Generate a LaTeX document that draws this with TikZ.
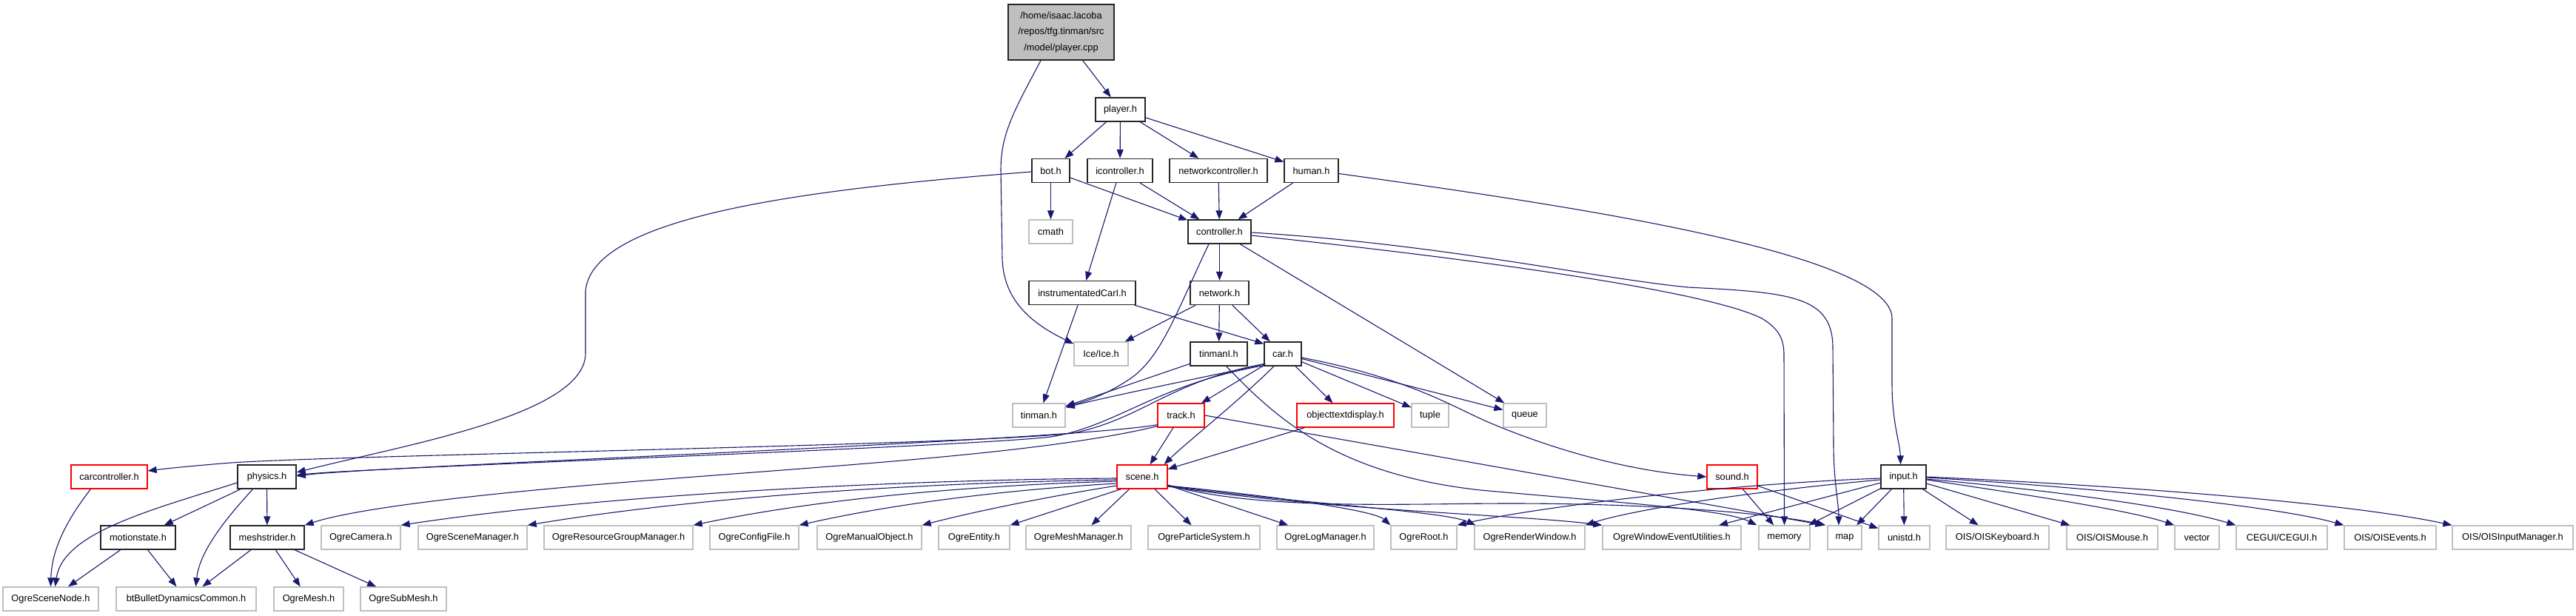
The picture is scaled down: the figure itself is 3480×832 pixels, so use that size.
\documentclass[tikz,border=0pt]{standalone}
\usepackage{fontspec}
\setmainfont{Liberation Sans}
\usetikzlibrary{arrows.meta,calc}
\definecolor{edgeblue}{HTML}{191970}
\definecolor{greyline}{HTML}{BFBFBF}
\definecolor{rootfill}{HTML}{BFBFBF}
\tikzset{
  nbox/.style={rectangle, inner sep=0pt, minimum height=32pt, fill=white,
    font=\fontsize{12.8}{15}\selectfont, line width=1.3pt},
  blk/.style={nbox, draw=black!85},
  gry/.style={nbox, draw=greyline},
  rd/.style={nbox, draw=red},
  dep/.style={draw=edgeblue, line width=1.1pt, -{Triangle[length=12pt,width=9pt]}},
}
\begin{document}
\begin{tikzpicture}[x=1pt,y=-1pt]
\useasboundingbox (0,0) rectangle (3480,832);
% ---------- nodes ----------
\node[blk, fill=rootfill, minimum width=143pt, minimum height=75pt, align=center,
      font=\fontsize{12.8}{21.5}\selectfont] (pcpp) at (1433.5,43.5)
      {/home/isaac.lacoba\\/repos/tfg.tinman/src\\/model/player.cpp};
\node[blk, minimum width=67pt] (playerh) at (1513.5,148) {player.h};
\node[blk, minimum width=51pt] (bot) at (1419.5,230.5) {bot.h};
\node[blk, minimum width=88pt] (icontroller) at (1513,230.5) {icontroller.h};
\node[blk, minimum width=132pt] (netctrl) at (1646,230.5) {networkcontroller.h};
\node[blk, minimum width=73pt] (human) at (1771.5,230.5) {human.h};
\node[gry, minimum width=59pt] (cmath) at (1419.5,313) {cmath};
\node[blk, minimum width=85pt] (controller) at (1647.5,313) {controller.h};
\node[blk, minimum width=144pt] (instr) at (1462,395.5) {instrumentatedCarI.h};
\node[blk, minimum width=79pt] (network) at (1647.5,395.5) {network.h};
\node[gry, minimum width=73pt] (ice) at (1487.5,478) {Ice/Ice.h};
\node[blk, minimum width=77pt] (tinmanI) at (1646.5,478) {tinmanI.h};
\node[blk, minimum width=50pt] (car) at (1733,478) {car.h};
\node[gry, minimum width=71pt] (tinman) at (1403.5,561) {tinman.h};
\node[rd, minimum width=63pt] (track) at (1595.5,561) {track.h};
\node[rd, minimum width=131pt] (otd) at (1817.5,561) {objecttextdisplay.h};
\node[gry, minimum width=50pt] (tuple) at (1932,561) {tuple};
\node[gry, minimum width=58pt] (queue) at (2060,561) {queue};
\node[rd, minimum width=103pt] (carctrl) at (147.5,644) {carcontroller.h};
\node[blk, minimum width=79pt] (physics) at (360.5,644) {physics.h};
\node[rd, minimum width=68pt] (scene) at (1543,644) {scene.h};
\node[rd, minimum width=68pt] (sound) at (2340,644) {sound.h};
\node[blk, minimum width=61pt] (input) at (2571.5,644) {input.h};
% row 8
\node[blk, minimum width=101pt] (motionstate) at (186.5,726) {motionstate.h};
\node[blk, minimum width=100pt] (meshstrider) at (361,726) {meshstrider.h};
\node[gry, minimum width=107pt] (ogcam) at (487.5,726) {OgreCamera.h};
\node[gry, minimum width=147pt] (ogscm) at (638.5,726) {OgreSceneManager.h};
\node[gry, minimum width=201pt] (ogrgm) at (835.5,726) {OgreResourceGroupManager.h};
\node[gry, minimum width=120pt] (ogcfg) at (1019,726) {OgreConfigFile.h};
\node[gry, minimum width=141pt] (ogman) at (1174.5,726) {OgreManualObject.h};
\node[gry, minimum width=96pt] (ogent) at (1316,726) {OgreEntity.h};
\node[gry, minimum width=142pt] (ogmm) at (1457,726) {OgreMeshManager.h};
\node[gry, minimum width=151pt] (ogps) at (1626.5,726) {OgreParticleSystem.h};
\node[gry, minimum width=131pt] (oglog) at (1790.5,726) {OgreLogManager.h};
\node[gry, minimum width=89pt] (ogroot) at (1923.5,726) {OgreRoot.h};
\node[gry, minimum width=149pt] (ogrw) at (2066.5,726) {OgreRenderWindow.h};
\node[gry, minimum width=187pt] (ogweu) at (2258.5,726) {OgreWindowEventUtilities.h};
\node[gry, minimum width=69pt] (memory) at (2410.5,726) {memory};
\node[gry, minimum width=46pt] (map) at (2492,726) {map};
\node[gry, minimum width=69pt] (unistd) at (2572.5,726) {unistd.h};
\node[gry, minimum width=139pt] (oiskb) at (2698.5,726) {OIS/OISKeyboard.h};
\node[gry, minimum width=123pt] (oismouse) at (2853.5,726) {OIS/OISMouse.h};
\node[gry, minimum width=60pt] (vector) at (2968,726) {vector};
\node[gry, minimum width=123pt] (cegui) at (3082.5,726) {CEGUI/CEGUI.h};
\node[gry, minimum width=124pt] (oisev) at (3229,726) {OIS/OISEvents.h};
\node[gry, minimum width=163pt] (oisim) at (3394.5,726) {OIS/OISInputManager.h};
% row 9
\node[gry, minimum width=129pt] (ogsn) at (68.5,809) {OgreSceneNode.h};
\node[gry, minimum width=189pt] (bt) at (251.5,809) {btBulletDynamicsCommon.h};
\node[gry, minimum width=94pt] (ogmesh) at (417,809) {OgreMesh.h};
\node[gry, minimum width=116pt] (ogsub) at (545,809) {OgreSubMesh.h};
% ---------- edges ----------
\draw[dep] (pcpp) -- (playerh);
\draw[dep] ($(pcpp.south)+(-27.5,0)$) .. controls (1370,150) and (1352,180) .. (1352,230)
   -- (1354,350) .. controls (1356,410) and (1400,440) .. ($(ice.north west)+(0,3)$);
\draw[dep] (playerh) -- (bot);
\draw[dep] (playerh) -- (icontroller);
\draw[dep] (playerh) -- (netctrl);
\draw[dep] (playerh) -- (human);
\draw[dep] (bot) -- (cmath);
\draw[dep] (bot) -- (controller);
\draw[dep] ($(bot.west)+(0,1.5)$) .. controls (1100,255) and (800,290) .. (791,393)
   -- (791,477) .. controls (791,560) and (550,600) .. ($(physics.east)+(0,-6)$);
\draw[dep] (icontroller) -- (controller);
\draw[dep] (icontroller) -- (instr);
\draw[dep] (netctrl) -- (controller);
\draw[dep] (human) -- (controller);
\draw[dep] ($(human.east)+(0,4)$) .. controls (2100,275) and (2556,340) .. (2556,430)
   -- (2556,520) .. controls (2556,570) and (2567,600) .. ($(input.north)+(-4,0)$);
\draw[dep] (controller) -- (network);
\draw[dep] ($(controller.south)+(-14.5,0)$) .. controls (1590,420) and (1570,480) .. (1529,510)
   .. controls (1500,530) and (1470,542) .. ($(tinman.north east)+(0,4)$);
\draw[dep] (controller) -- (queue);
\draw[dep] ($(controller.east)+(0,1)$) .. controls (1950,330) and (2150,375) .. (2280,388)
   .. controls (2420,395) and (2476,400) .. (2476,470) -- (2477,600)
   .. controls (2477,650) and (2484,680) .. ($(map.north)+(-8,0)$);
\draw[dep] ($(controller.east)+(0,5)$) .. controls (1950,345) and (2300,390) .. (2380,430)
   .. controls (2405,445) and (2410,460) .. (2410,480) -- (memory.north);
\draw[dep] (instr) -- (tinman);
\draw[dep] ($(instr.south east)+(-2,0)$) -- ($(car.north west)+(0,3)$);
\draw[dep] (network) -- (ice);
\draw[dep] (network) -- (tinmanI);
\draw[dep] (network) -- (car);
\draw[dep] (tinmanI) -- (tinman);
\draw[dep] ($(tinmanI.south)+(10,0)$) .. controls (1720,560) and (1800,640) .. (2000,662)
   .. controls (2200,680) and (2330,688) .. ($(memory.north west)+(-2,0)$);
\draw[dep] ($(car.south west)+(2,-3)$) .. controls (1600,515) and (1500,535) .. ($(tinman.north east)+(0,6)$);
\draw[dep] ($(car.south west)+(0,-3)$) .. controls (1580,515) and (1545,565) .. (1450,585)
   .. controls (1300,602) and (420,615) .. (300,626)
   .. controls (240,631) and (215,634) .. ($(carctrl.east)+(0,-8)$);
\draw[dep] ($(car.south west)+(0,-1)$) .. controls (1560,520) and (1510,575) .. (1420,590)
   .. controls (1300,604) and (480,632) .. ($(physics.east)+(0,-2)$);
\draw[dep] (car) -- (track);
\draw[dep] ($(car.south)+(-12,0)$) .. controls (1670,545) and (1600,600) .. ($(scene.north east)+(-5,0)$);
\draw[dep] (car) -- (otd);
\draw[dep] (car) -- (tuple);
\draw[dep] (car) -- (queue);
\draw[dep] ($(car.east)+(0,5)$) .. controls (1900,510) and (1960,548) .. (2010,570)
   .. controls (2100,608) and (2200,636) .. (sound.west);
\draw[dep] ($(track.south west)+(0,-4)$) .. controls (1450,595) and (500,630) .. ($(physics.east)+(0,-1)$);
\draw[dep] ($(track.south west)+(0,-2)$) .. controls (1400,615) and (1100,630) .. (800,655)
   .. controls (600,672) and (470,690) .. (meshstrider.north east);
\draw[dep] (track) -- (scene);
\draw[dep] (track.east) .. controls (1850,600) and (2300,680) .. ($(map.north west)+(-4,0)$);
\draw[dep] (otd) -- (scene);
% scene.h
\draw[dep] ($(scene.west)+(0,2)$) .. controls (1200,648) and (800,670) .. (ogcam.north east);
\draw[dep] ($(scene.west)+(0,4)$) .. controls (1250,652) and (950,670) .. (ogscm.north east);
\draw[dep] ($(scene.west)+(0,6)$) .. controls (1300,656) and (1100,675) .. (ogrgm.north east);
\draw[dep] ($(scene.west)+(0,9)$) .. controls (1350,662) and (1200,682) .. (ogcfg.north east);
\draw[dep] ($(scene.west)+(0,12)$) .. controls (1420,670) and (1320,690) .. (ogman.north east);
\draw[dep] ($(scene.south west)+(6,0)$) -- (ogent.north east);
\draw[dep] (scene) -- (ogmm);
\draw[dep] (scene) -- (ogps);
\draw[dep] (scene) -- (oglog);
\draw[dep] ($(scene.east)+(0,12)$) .. controls (1700,668) and (1855,688) .. (ogroot.north west);
\draw[dep] ($(scene.east)+(0,12)$) .. controls (1750,680) and (1950,690) .. ($(ogrw.north west)+(2,0)$);
\draw[dep] ($(scene.east)+(0,13)$) .. controls (1800,690) and (2050,695) .. (ogweu.north west);
\draw[dep] ($(scene.east)+(0,11)$) .. controls (1700,690) and (1900,680) .. (2040,680)
   .. controls (2250,680) and (2400,695) .. ($(map.north west)+(-2,0)$);
% sound.h
\draw[dep] (sound) -- (memory);
\draw[dep] (sound) -- (unistd);
% input.h
\draw[dep] ($(input.west)+(0,2)$) .. controls (2300,655) and (2050,690) .. (ogroot.north east);
\draw[dep] ($(input.west)+(0,4)$) .. controls (2350,665) and (2200,690) .. (ogrw.north east);
\draw[dep] (input) -- (ogweu);
\draw[dep] (input) -- (memory);
\draw[dep] (input) -- (map);
\draw[dep] (input) -- (unistd);
\draw[dep] (input) -- (oiskb);
\draw[dep] (input) -- (oismouse);
\draw[dep] ($(input.east)+(0,4)$) .. controls (2750,670) and (2880,690) .. (vector.north west);
\draw[dep] ($(input.east)+(0,3)$) .. controls (2800,665) and (2950,688) .. (cegui.north west);
\draw[dep] ($(input.east)+(0,1)$) .. controls (2850,660) and (3080,685) .. (oisev.north west);
\draw[dep] (input.east) .. controls (2950,660) and (3200,685) .. (oisim.north west);
% physics side
\draw[dep] ($(physics.west)+(0,8)$) .. controls (200,690) and (85,720) .. ($(ogsn.north)+(6,0)$);
\draw[dep] (physics) -- (motionstate);
\draw[dep] ($(physics.south)+(-19,0)$) .. controls (315,690) and (270,740) .. ($(bt.north)+(13,0)$);
\draw[dep] (physics) -- (meshstrider);
\draw[dep] ($(carctrl.south)+(-25,0)$) .. controls (92,700) and (70,740) .. (ogsn.north);
\draw[dep] (motionstate) -- (ogsn);
\draw[dep] (motionstate) -- (bt);
\draw[dep] (meshstrider) -- (bt);
\draw[dep] (meshstrider) -- (ogmesh);
\draw[dep] (meshstrider) -- (ogsub);
\end{tikzpicture}
\end{document}
